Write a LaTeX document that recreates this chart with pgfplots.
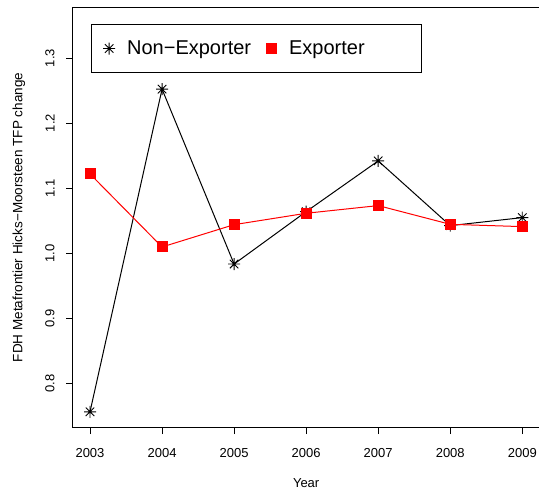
\documentclass[border=0pt]{standalone}
\usepackage{fontspec}
\setmainfont{Liberation Sans}
\usepackage{pgfplots}
\pgfplotsset{compat=1.18}
\pgfdeclareplotmark{rstar}{%
 \pgfpathmoveto{\pgfqpoint{-\pgfplotmarksize}{0pt}}\pgfpathlineto{\pgfqpoint{\pgfplotmarksize}{0pt}}%
 \pgfpathmoveto{\pgfqpoint{0pt}{-\pgfplotmarksize}}\pgfpathlineto{\pgfqpoint{0pt}{\pgfplotmarksize}}%
 \pgfpathmoveto{\pgfqpoint{-0.7071\pgfplotmarksize}{-0.7071\pgfplotmarksize}}\pgfpathlineto{\pgfqpoint{0.7071\pgfplotmarksize}{0.7071\pgfplotmarksize}}%
 \pgfpathmoveto{\pgfqpoint{-0.7071\pgfplotmarksize}{0.7071\pgfplotmarksize}}\pgfpathlineto{\pgfqpoint{0.7071\pgfplotmarksize}{-0.7071\pgfplotmarksize}}%
 \pgfusepathqstroke}
\pgfplotstableread{
year ne ex
2003 0.7563 1.122
2004 1.2523 1.0097
2005 0.9835 1.044
2006 1.064 1.0615
2007 1.142 1.0733
2008 1.0425 1.0445
2009 1.0548 1.041
}\datatable
\begin{document}
\begin{tikzpicture}
\useasboundingbox (-73pt,-66pt) rectangle (466pt,427pt);
\begin{axis}[
 at={(0pt,0pt)}, anchor=south west,
 scale only axis, width=466.3pt, height=419pt,
 xmin=2002.764, xmax=2009.236, ymin=0.733, ymax=1.377,
 xtick={2003,2004,2005,2006,2007,2008,2009},
 ytick={0.8,0.9,1.0,1.1,1.2,1.3},
 xtick pos=bottom, ytick pos=left,
 tick align=outside, major tick length=7pt,
 axis line style={line width=1pt, black},
 tick style={line width=1pt, black},
 /pgf/number format/assume math mode=true,
 ticklabel style={font=\fontsize{13}{15}\selectfont},
 xticklabel shift=11pt, yticklabel shift=8pt,
 xticklabel style={/pgf/number format/1000 sep={}},
 yticklabel style={rotate=90, anchor=south, /pgf/number format/.cd, fixed, fixed zerofill, precision=1},
 xlabel={Year},
 ylabel={FDH Metafrontier Hicks\textminus Moorsteen TFP change},
 xlabel style={font=\fontsize{13}{15}\selectfont, at={(axis description cs:0.5,-0.1337)}, anchor=center},
 ylabel style={font=\fontsize{13.5}{15}\selectfont, at={(axis description cs:-0.1158,0.5)}, anchor=center},
 legend columns=2,
 legend image code/.code={\path[draw=none,fill=none] (0pt,-8pt) rectangle (36pt,8pt);\draw[#1,/tikz/only marks] plot coordinates {(18pt,0pt)};},
 legend style={at={(axis description cs:0.0379,0.9618)}, anchor=north west,
   draw=black, line width=1pt, fill=white, inner xsep=0pt, inner ysep=16pt,
   font=\fontsize{20}{23}\selectfont,
   nodes={inner sep=0pt},
   /tikz/column 2/.style={column sep=2pt},
   /tikz/column 4/.style={column sep=0pt},
   legend cell align=left},
]
\addplot[black, line width=1pt, mark=rstar, mark size=6pt, mark options={line width=0.9pt}] table[x=year, y=ne] {\datatable};
\addlegendentry{Non\textminus Exporter}
\addplot[red, line width=1pt, mark=square*, mark size=5pt, mark options={fill=red, draw=none}] table[x=year, y=ex] {\datatable};
\addlegendentry{\makebox[132pt][l]{Exporter}}
\end{axis}
\end{tikzpicture}
\end{document}
